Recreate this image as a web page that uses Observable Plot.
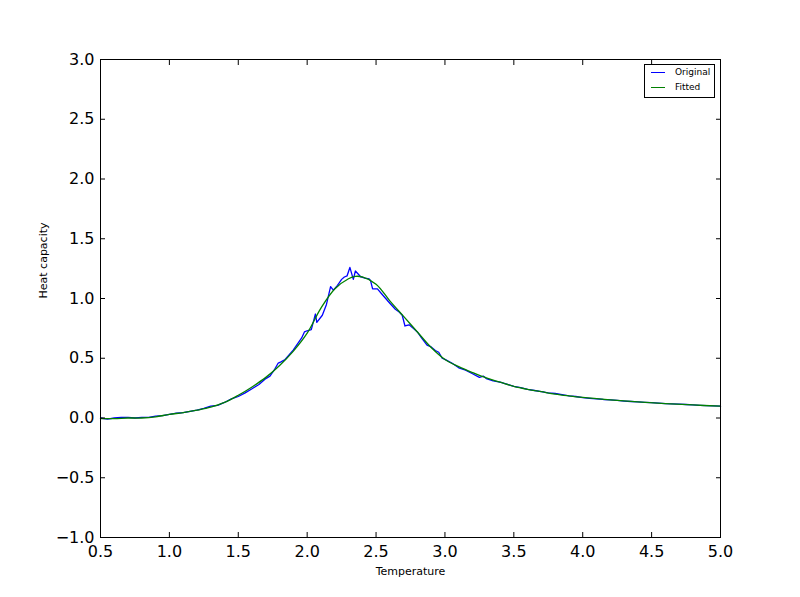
<!DOCTYPE html>
<html><head><meta charset="utf-8">
<script src="https://cdn.jsdelivr.net/npm/d3@7"></script>
<script src="https://cdn.jsdelivr.net/npm/@observablehq/plot@0.6"></script>
<style>
body{margin:0;background:#fff;}
#wrap{position:relative;width:800px;height:597px;}
.legend{position:absolute;left:644px;top:64px;width:71px;height:34px;border:1px solid #000;background:#fff;box-sizing:border-box;font-family:"DejaVu Sans",sans-serif;font-size:9px;}
.legend .row{position:absolute;left:0;height:12px;line-height:12px;}
.legend .sw{position:absolute;left:6px;top:6px;width:14px;height:1px;display:block;}
.legend .lab{position:absolute;left:30px;top:0;white-space:nowrap;}
</style>
</head><body><div id="wrap"></div>
<script>
// Original (measured) heat capacity
const origT = [0.50,0.55,0.60,0.65,0.70,0.75,0.80,0.85,0.90,0.95,1.00,1.05,1.10,1.15,1.20,1.25,1.30,1.35,1.40,1.45,1.50,1.55,1.60,1.65,
  1.70,1.73,1.76,1.79,1.81,1.84,1.87,1.90,1.93,1.96,1.98,2.00,2.03,2.06,2.07,2.11,2.14,2.17,2.19,2.22,2.25,2.27,2.29,2.31,2.335,2.35,2.39,2.42,2.45,2.46,2.475,2.51,2.54,2.57,2.60,2.64,2.67,2.69,2.71,2.74,2.77,2.80,2.83,2.87,2.90,2.93,2.955,2.98,
  3.00,3.05,3.10,3.15,3.20,3.25,3.28,3.30,3.35,3.40,3.46,3.50,3.55,3.60,3.65,3.70,3.75,3.80,3.85,3.90,3.95,4.00,4.05,4.10,4.15,4.20,4.25,4.30,4.35,4.40,4.45,4.50,4.55,4.60,4.65,4.70,4.75,4.80,4.85,4.90,4.95,5.00];
const origC = [0.00,-0.01,0.00,0.005,0.005,0.00,0.005,0.005,0.015,0.02,0.03,0.04,0.045,0.055,0.065,0.08,0.10,0.105,0.13,0.16,0.18,0.21,0.245,0.28,
  0.33,0.35,0.40,0.46,0.47,0.49,0.53,0.57,0.62,0.67,0.72,0.73,0.74,0.87,0.80,0.86,0.95,1.10,1.07,1.11,1.16,1.18,1.19,1.26,1.16,1.23,1.18,1.17,1.165,1.15,1.08,1.08,1.04,1.00,0.96,0.91,0.885,0.86,0.77,0.78,0.75,0.72,0.67,0.61,0.595,0.565,0.55,0.50,
  0.49,0.46,0.42,0.40,0.37,0.34,0.35,0.33,0.31,0.30,0.28,0.265,0.255,0.24,0.23,0.22,0.21,0.205,0.195,0.185,0.18,0.17,0.165,0.16,0.155,0.152,0.147,0.142,0.138,0.135,0.131,0.128,0.125,0.121,0.119,0.116,0.113,0.109,0.106,0.104,0.101,0.099];
// Fitted curve
const fitT = [0.5,0.6,0.7,0.8,0.9,1.0,1.1,1.2,1.3,1.4,1.5,1.6,1.7,1.8,1.9,2.0,2.1,2.2,2.3,2.35,2.4,2.5,2.6,2.7,2.8,2.9,3.0,3.1,3.2,3.3,3.4,3.5,3.6,3.7,3.8,3.9,4.0,4.2,4.4,4.6,4.8,5.0];
const fitC = [-0.005,-0.005,0.0,0.0,0.01,0.03,0.045,0.065,0.09,0.13,0.19,0.26,0.34,0.44,0.56,0.71,0.92,1.08,1.165,1.185,1.18,1.12,0.98,0.85,0.72,0.59,0.49,0.43,0.38,0.335,0.30,0.265,0.24,0.22,0.20,0.185,0.172,0.152,0.135,0.121,0.109,0.099];
const xTicks = [0.5,1.0,1.5,2.0,2.5,3.0,3.5,4.0,4.5,5.0];
const yTicks = [-1.0,-0.5,0.0,0.5,1.0,1.5,2.0,2.5,3.0];
const seriesNames = ["Original","Fitted"];
const seriesColors = ["#0000ff","#008000"];

const orig = origT.map((t,i)=>({T:t,C:origC[i]}));
const fit = fitT.map((t,i)=>({T:t,C:fitC[i]}));
const fmt = d => (d<0?"\u2212":"") + Math.abs(d).toFixed(1);
const blank = () => "";

const chart = Plot.plot({
  width:800, height:597,
  marginLeft:100, marginRight:80, marginTop:59, marginBottom:60,
  x:{domain:[0.5,5]}, y:{domain:[-1,3]},
  style:{fontFamily:"DejaVu Sans, sans-serif", fontSize:"16px", color:"black", background:"white"},
  marks:[
    Plot.line(orig,{x:"T",y:"C",stroke:seriesColors[0],strokeWidth:1.3}),
    Plot.line(fit,{x:"T",y:"C",stroke:seriesColors[1],strokeWidth:1.3,curve:"catmull-rom"}),
    Plot.frame({stroke:"black",strokeWidth:1}),
    Plot.axisX(xTicks,{anchor:"bottom",tickSize:-5,tickPadding:13,tickFormat:fmt,fontSize:16,label:null}),
    Plot.axisX(xTicks,{anchor:"top",tickSize:-5,tickFormat:blank,label:null}),
    Plot.axisY(yTicks,{anchor:"left",tickSize:-5,tickPadding:11,tickFormat:fmt,fontSize:16,label:null}),
    Plot.axisY(yTicks,{anchor:"right",tickSize:-5,tickFormat:blank,label:null}),
    Plot.text(["Temperature"],{frameAnchor:"bottom",dy:37,fontSize:11}),
    Plot.text(["Heat capacity"],{frameAnchor:"left",dx:-57,rotate:-90,fontSize:11})
  ]
});
const wrap = document.getElementById("wrap");
wrap.appendChild(chart);
const leg = document.createElement("div");
leg.className = "legend";
seriesNames.forEach((n,i)=>{
  const row = document.createElement("div");
  row.className = "row";
  row.style.top = (1 + i*15) + "px";
  row.style.width = "100%";
  row.innerHTML = `<span class="sw" style="background:${seriesColors[i]}"></span><span class="lab">${n}</span>`;
  leg.appendChild(row);
});
wrap.appendChild(leg);
</script>
</body></html>
